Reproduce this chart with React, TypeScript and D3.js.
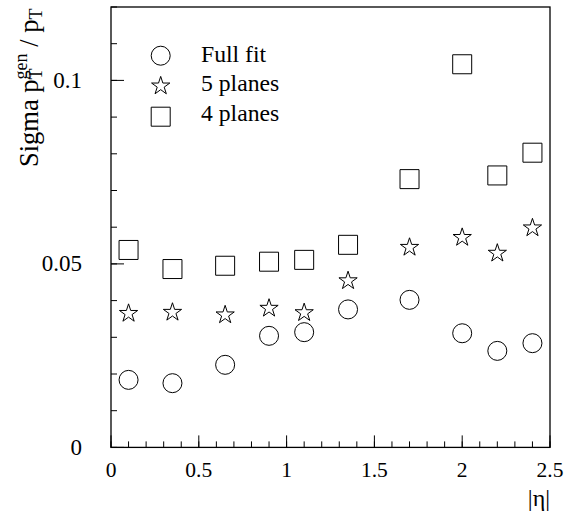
import React from "react";
import * as d3 from "d3";

// |eta| bins and resolution values
const eta = [0.1, 0.35, 0.65, 0.9, 1.1, 1.35, 1.7, 2.0, 2.2, 2.4];
const fullFit = [0.0184, 0.0175, 0.0225, 0.0304, 0.0314, 0.0376, 0.0402, 0.0311, 0.0263, 0.0284];
const fivePlanes = [0.0365, 0.0368, 0.0361, 0.0379, 0.0367, 0.0454, 0.0545, 0.0572, 0.0529, 0.0598];
const fourPlanes = [0.0538, 0.0486, 0.0495, 0.0506, 0.0511, 0.0552, 0.0731, 0.1044, 0.0741, 0.0803];

const xMajor = [0, 0.5, 1, 1.5, 2, 2.5];
const xLabels = ["0", "0.5", "1", "1.5", "2", "2.5"];
const yMajor = [0, 0.05, 0.1];
const yLabels = ["0", "0.05", "0.1"];

const legendNames = ["Full fit", "5 planes", "4 planes"];

const W = 573;
const H = 520;
const frame = { left: 111, right: 550, top: 7, bottom: 447.4 };
const serif = { fontFamily: "Liberation Serif" };

export default function App() {
  const x = d3.scaleLinear().domain([0, 2.5]).range([frame.left, frame.right]);
  const y = d3.scaleLinear().domain([0, 0.12]).range([frame.bottom, frame.top]);

  const circle = d3.symbol(d3.symbolCircle, Math.PI * 9.5 * 9.5)();
  const star = d3.symbol(d3.symbolStar, 9.6 * 9.6 / 0.8908130915292852)();
  const square = d3.symbol(d3.symbolSquare, 19 * 19)();
  const shapes = [circle, star, square];
  const series = [fullFit, fivePlanes, fourPlanes];
  const legendY = [55.7, 86, 116.7];

  const xMinor = d3.range(0, 26).map((i) => i / 10);
  const yMinor = d3.range(0, 13).map((i) => i / 100);

  return (
    <svg width={W} height={H} style={{ position: "absolute", left: 0, top: 0, background: "#fff" }}>
      <rect
        x={frame.left}
        y={frame.top}
        width={frame.right - frame.left}
        height={frame.bottom - frame.top}
        fill="none"
        stroke="#000"
        strokeWidth={1.3}
      />

      {/* x ticks */}
      {xMinor.map((v, i) => (
        <line key={"xm" + i} x1={x(v)} x2={x(v)} y1={frame.bottom} y2={frame.bottom - 6} stroke="#000" strokeWidth={1} />
      ))}
      {xMajor.map((v, i) => (
        <line key={"xM" + i} x1={x(v)} x2={x(v)} y1={frame.bottom} y2={frame.bottom - 12} stroke="#000" strokeWidth={1} />
      ))}
      {xMajor.map((v, i) => (
        <text key={"xl" + i} x={x(v)} y={477} fontSize={21.5} textAnchor="middle" style={serif}>
          {xLabels[i]}
        </text>
      ))}

      {/* y ticks */}
      {yMinor.map((v, i) => (
        <line key={"ym" + i} x1={frame.left} x2={frame.left + 6} y1={y(v)} y2={y(v)} stroke="#000" strokeWidth={1} />
      ))}
      {yMajor.map((v, i) => (
        <line key={"yM" + i} x1={frame.left} x2={frame.left + 13} y1={y(v)} y2={y(v)} stroke="#000" strokeWidth={1} />
      ))}
      {yMajor.map((v, i) => (
        <text key={"yl" + i} x={82} y={y(v) + 7.5} fontSize={23} textAnchor="end" style={serif}>
          {yLabels[i]}
        </text>
      ))}

      {/* axis titles */}
      <text x={550} y={506} fontSize={24} textAnchor="end" style={serif}>
        |η|
      </text>
      <text transform="translate(38,167) rotate(-90)" fontSize={26.5} style={serif}>
        Sigma p
        <tspan fontSize={18} dy={4}>T</tspan>
        <tspan fontSize={18} dx={-11} dy={-15}>gen</tspan>
        <tspan fontSize={26.5} dy={11}>{" / p"}</tspan>
        <tspan fontSize={18} dy={4}>T</tspan>
      </text>

      {/* markers */}
      {series.map((vals, s) =>
        vals.map((v, i) => (
          <path
            key={"p" + s + "-" + i}
            d={shapes[s] as string}
            transform={`translate(${x(eta[i])},${y(v)})`}
            fill="none"
            stroke="#000"
            strokeWidth={1}
          />
        ))
      )}

      {/* legend */}
      {legendNames.map((name, i) => (
        <g key={"lg" + i}>
          <path
            d={shapes[i] as string}
            transform={`translate(160.7,${legendY[i]})`}
            fill="none"
            stroke="#000"
            strokeWidth={1}
          />
          <text x={201} y={61.7 + i * 29.5} fontSize={23.7} style={serif}>
            {name}
          </text>
        </g>
      ))}
    </svg>
  );
}
